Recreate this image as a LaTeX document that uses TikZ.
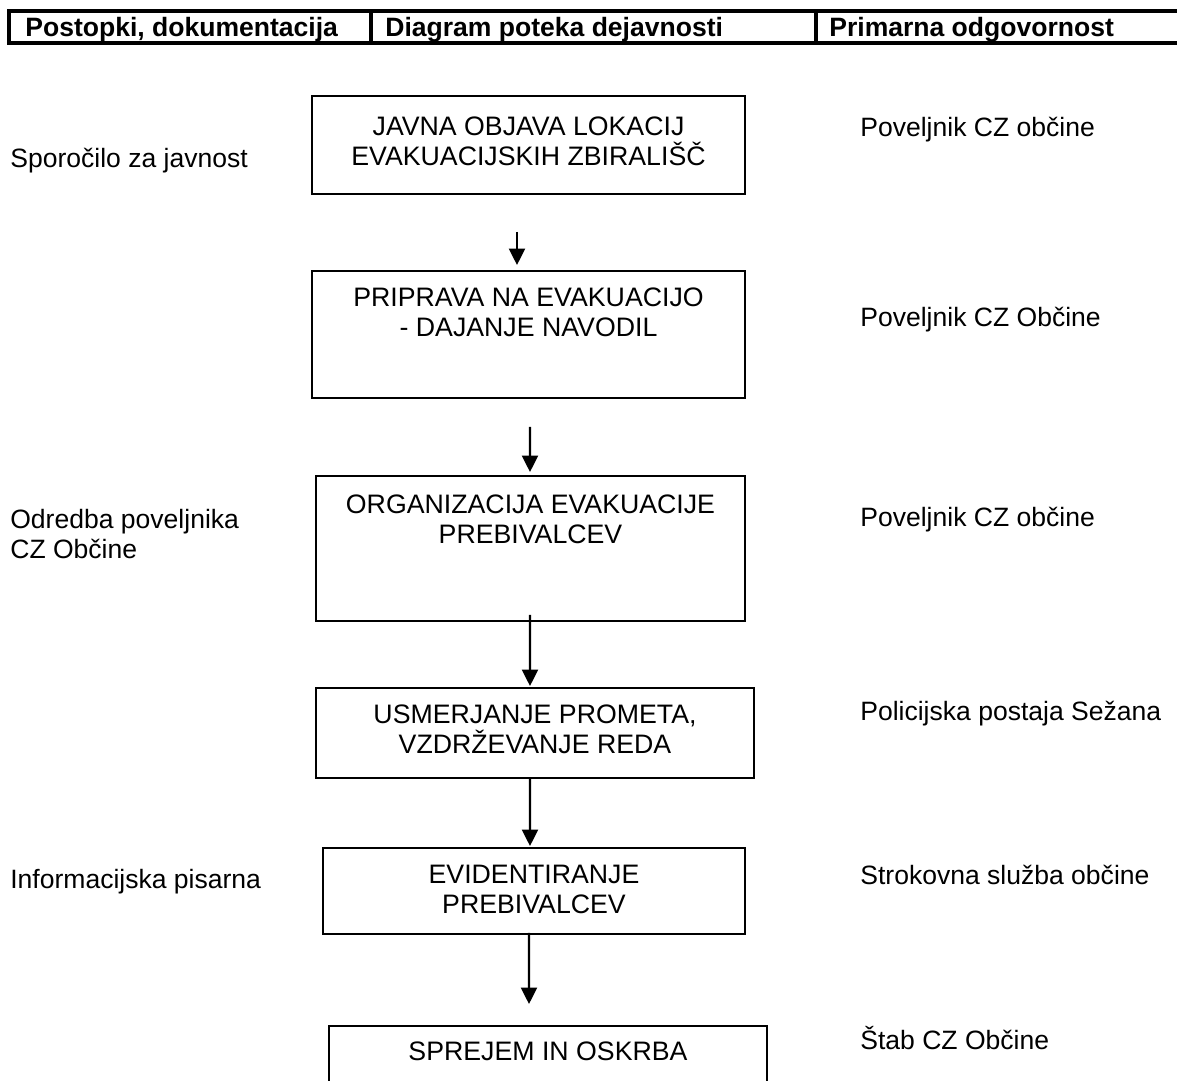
\documentclass[tikz,border=0pt]{standalone}
\usepackage{fontspec}
\setmainfont{Liberation Sans}
\usetikzlibrary{arrows.meta,positioning}

\tikzset{
  box/.style={draw,line width=1.1pt,inner sep=0pt},
  boxtxt/.style={inner sep=0pt,align=center,font=\fontsize{15.2}{17.1}\selectfont},
  sidetxt/.style={inner sep=0pt,anchor=base west,font=\fontsize{15.1}{17.1}\selectfont},
  headtxt/.style={inner sep=0pt,anchor=base west,font=\fontsize{15.1}{17.1}\selectfont\bfseries},
  flow/.style={->,>={Triangle[length=3.3mm,width=3.2mm]},line width=1.3pt},
}

\begin{document}
\begin{tikzpicture}

  \clip (0,0) rectangle (23.54,-21.62);

  % glava tabele
  \draw[line width=2pt] (23.54,-0.22) -| (0.18,-0.86) -- (23.54,-0.86);
  \draw[line width=2pt] (7.42,-0.22) -- (7.42,-0.86);
  \draw[line width=2pt] (16.32,-0.22) -- (16.32,-0.86);
  \node[headtxt] (h1) at (0.50,-0.72) {Postopki, dokumentacija};
  \node[headtxt] (h2) at (7.70,-0.72) {Diagram poteka dejavnosti};
  \node[headtxt] (h3) at (16.58,-0.72) {Primarna odgovornost};

  % okvirji
  \node[box,minimum width=8.66cm,minimum height=1.96cm] (objava) at (10.57,-2.90) {};
  \node[box,minimum width=8.66cm,minimum height=2.54cm] (priprava) at (10.57,-6.69) {};
  \node[box,minimum width=8.58cm,minimum height=2.90cm] (organizacija) at (10.61,-10.97) {};
  \node[box,minimum width=8.76cm,minimum height=1.80cm] (promet) at (10.70,-14.66) {};
  \node[box,minimum width=8.44cm,minimum height=1.72cm] (evidenca) at (10.68,-17.82) {};
  \node[box,minimum width=8.76cm,minimum height=2.00cm] (oskrba) at (10.96,-21.52) {};

  \node[boxtxt,below=0.43cm of objava.north] (tobjava) {JAVNA OBJAVA LOKACIJ\\EVAKUACIJSKIH ZBIRALIŠČ};
  \node[boxtxt,below=0.35cm of priprava.north] (tpriprava) {PRIPRAVA NA EVAKUACIJO\\- DAJANJE NAVODIL};
  \node[boxtxt,below=0.39cm of organizacija.north] (torganizacija) {ORGANIZACIJA EVAKUACIJE\\PREBIVALCEV};
  \node[boxtxt,below=0.35cm of promet.north] (tpromet) {USMERJANJE PROMETA,\\VZDRŽEVANJE REDA};
  \node[boxtxt,below=0.35cm of evidenca.north] (tevidenca) {EVIDENTIRANJE\\PREBIVALCEV};
  \node[boxtxt,below=0.33cm of oskrba.north] (toskrba) {SPREJEM IN OSKRBA};

  % puscice
  \draw[flow,shorten <=0.74cm,shorten >=0.10cm] ([xshift=-0.23cm]objava.south) -- ([xshift=-0.23cm]priprava.north);
  \draw[flow,shorten <=0.56cm,shorten >=0.06cm] ([xshift=0.03cm]priprava.south) -- ([xshift=-0.01cm]organizacija.north);
  \draw[flow,shorten <=-0.14cm,shorten >=0.02cm] ([xshift=-0.01cm]organizacija.south) -- ([xshift=-0.10cm]promet.north);
  \draw[flow,shorten >=0.02cm] ([xshift=-0.10cm]promet.south) -- ([xshift=-0.08cm]evidenca.north);
  \draw[flow,shorten <=-0.04cm,shorten >=0.42cm] ([xshift=-0.10cm]evidenca.south) -- ([xshift=-0.38cm]oskrba.north);

  % postopki
  \node[sidetxt] (sporocilo) at (0.2,-3.34) {Sporočilo za javnost};
  \node[sidetxt,anchor=north west,align=left] (odredba) at (0.2,-10.17) {Odredba poveljnika\\CZ Občine};
  \node[sidetxt] (pisarna) at (0.2,-17.76) {Informacijska pisarna};

  % odgovornost
  \node[sidetxt] (odg1) at (17.2,-2.73) {Poveljnik CZ občine};
  \node[sidetxt] (odg2) at (17.2,-6.53) {Poveljnik CZ Občine};
  \node[sidetxt] (odg3) at (17.2,-10.53) {Poveljnik CZ občine};
  \node[sidetxt] (odg4) at (17.2,-14.40) {Policijska postaja Sežana};
  \node[sidetxt] (odg5) at (17.2,-17.68) {Strokovna služba občine};
  \node[sidetxt] (odg6) at (17.2,-20.98) {Štab CZ Občine};

\end{tikzpicture}
\end{document}
